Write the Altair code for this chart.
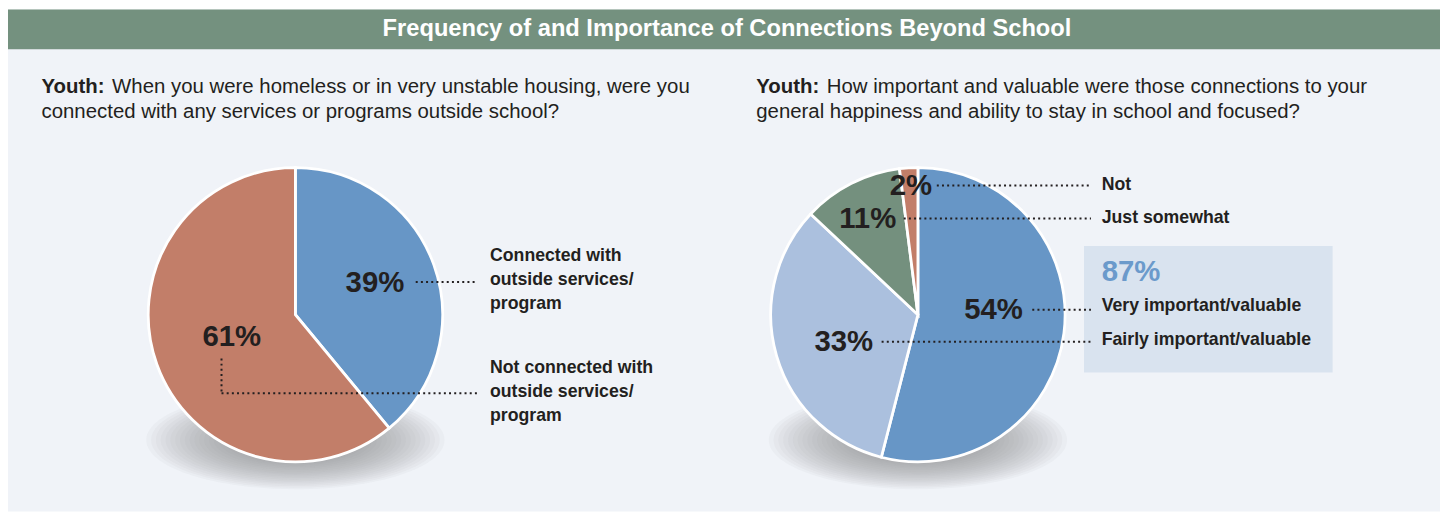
import altair as alt
import pandas as pd
import numpy as np

# ---------------- data ----------------
left_categories = ["Connected with outside services/program",
                   "Not connected with outside services/program"]
left_values = [39, 61]
right_categories = ["Very important/valuable", "Fairly important/valuable",
                    "Just somewhat", "Not"]
right_values = [54, 33, 11, 2]
highlight_value = 87  # very + fairly important

# ---------------- text ----------------
header_text = "Frequency of and Importance of Connections Beyond School"
lead_word = "Youth:"
left_question = ["When you were homeless or in very unstable housing, were you",
                 "connected with any services or programs outside school?"]
right_question = ["How important and valuable were those connections to your",
                  "general happiness and ability to stay in school and focused?"]
left_label_lines = [["Connected with", "outside services/", "program"],
                    ["Not connected with", "outside services/", "program"]]
right_label_lines = [["Very important/valuable"], ["Fairly important/valuable"],
                     ["Just somewhat"], ["Not"]]

# ---------------- style / layout ----------------
W, H = 1440, 508
FONT = "Liberation Sans, Arial, sans-serif"
INK = "#231f20"
BG = "#f0f3f8"
HEADER = "#74917f"
BOX = "#d9e3ef"
left_colors = ["#6796c6", "#c27e69"]
right_colors = ["#6796c6", "#abc0de", "#74907e", "#c27e69"]
R = 148
left_center = (289, 307)
right_center = (915, 307)
left_pct_pos = [(369, 275), (225, 329)]
right_pct_pos = [(991, 302), (840.5, 334.5), (864.5, 211), (908, 178)]
left_leaders = [[(410, 274, 472, 274)],
                [(214.7, 351, 214.7, 386), (214.7, 386, 472, 386)]]
right_leaders = [[(1030, 302, 1089, 302)], [(878.5, 334.3, 1089, 334.3)],
                 [(900.7, 210.3, 1089, 210.3)], [(934, 177, 1089, 177)]]
left_label_pos = [(484.7, 248), (484.7, 361)]
right_label_pos = [(1099.8, 298.7), (1099.8, 332), (1099.8, 210), (1099.8, 177)]
LINE_H = 24

# ---------------- tables ----------------
left_df = pd.DataFrame({"category": left_categories, "value": left_values,
                        "idx": range(len(left_values))})
right_df = pd.DataFrame({"category": right_categories, "value": right_values,
                         "idx": range(len(right_values))})

pct_rows = []
for v, (x, y) in zip(left_values, left_pct_pos):
    pct_rows.append({"t": f"{v}%", "x": x, "y": y})
for v, (x, y) in zip(right_values, right_pct_pos):
    pct_rows.append({"t": f"{v}%", "x": x, "y": y})
pct_df = pd.DataFrame(pct_rows)

seg_rows = []
for segs in left_leaders + right_leaders:
    for (x1, y1, x2, y2) in segs:
        seg_rows.append({"x": x1, "y": y1, "x2": x2, "y2": y2})
seg_df = pd.DataFrame(seg_rows)

lab_rows = []
for lines, (x, y) in zip(left_label_lines + right_label_lines,
                         left_label_pos + right_label_pos):
    for i, ln in enumerate(lines):
        lab_rows.append({"t": ln, "x": x, "y": y + i * LINE_H})
lab_df = pd.DataFrame(lab_rows)

# soft drop shadow: a stack of faint concentric ellipses (decoration only)
shadow_rows = []
for cx, cy in (left_center, right_center):
    for f in np.linspace(1.0, 0.45, 18):
        shadow_rows.append({"x": cx, "y": cy + 126, "s": (2 * 150 * f) ** 2})
shadow_df = pd.DataFrame(shadow_rows)

q_rows = []
for x0, q in ((33.7, left_question), (752.4, right_question)):
    q_rows.append({"t": q[0], "x": x0 + 71, "y": 78})
    q_rows.append({"t": q[1], "x": x0, "y": 103})
q_df = pd.DataFrame(q_rows)
lead_df = pd.DataFrame({"t": [lead_word, lead_word], "x": [33.7, 752.4], "y": [78, 78]})

def px(field):
    return alt.X(f"{field}:Q", scale=None, axis=None)

def py(field):
    return alt.Y(f"{field}:Q", scale=None, axis=None)

base = alt.Chart(pd.DataFrame({"d": [0]}))

panel = base.mark_rect(color=BG).encode(
    x=alt.value(0), x2=alt.value(W), y=alt.value(0), y2=alt.value(505))
header = base.mark_rect(color=HEADER).encode(
    x=alt.value(0), x2=alt.value(W), y=alt.value(0), y2=alt.value(40))
header_title = base.mark_text(text=header_text, font=FONT, fontSize=23.8,
                              fontWeight="bold", color="white",
                              align="center", baseline="middle").encode(
    x=alt.value(723), y=alt.value(20))
box = base.mark_rect(color=BOX).encode(
    x=alt.value(1082), x2=alt.value(1332), y=alt.value(238), y2=alt.value(365))

shadow = alt.Chart(shadow_df).mark_point(
    shape="M-1,0A1,0.33,0,1,0,1,0A1,0.33,0,1,0,-1,0Z",
    filled=True, fill="#80868e", fillOpacity=0.05, opacity=1,
    strokeOpacity=0, strokeWidth=0).encode(
    x=px("x"), y=py("y"), size=alt.Size("s:Q", scale=None, legend=None))

left_pie = alt.Chart(left_df).mark_arc(outerRadius=R, stroke="white", strokeWidth=2.8).encode(
    theta=alt.Theta("value:Q", stack=True),
    color=alt.Color("category:N", scale=alt.Scale(domain=left_categories, range=left_colors), legend=None),
    order=alt.Order("idx:Q"),
    x=alt.value(left_center[0]), y=alt.value(left_center[1]))
right_pie = alt.Chart(right_df).mark_arc(outerRadius=R, stroke="white", strokeWidth=2.8).encode(
    theta=alt.Theta("value:Q", stack=True),
    color=alt.Color("category:N", scale=alt.Scale(domain=right_categories, range=right_colors), legend=None),
    order=alt.Order("idx:Q"),
    x=alt.value(right_center[0]), y=alt.value(right_center[1]))

leaders = alt.Chart(seg_df).mark_rule(color=INK, strokeWidth=2, strokeDash=[2, 3.2]).encode(
    x=px("x"), y=py("y"), x2="x2:Q", y2="y2:Q")

pcts = alt.Chart(pct_df).mark_text(font=FONT, fontSize=29.5, fontWeight="bold", color=INK,
                                   align="center", baseline="middle").encode(
    x=px("x"), y=py("y"), text="t:N")

big = base.mark_text(text=f"{highlight_value}%", font=FONT, fontSize=29.5, fontWeight="bold",
                     color="#6b9acb", align="left", baseline="middle").encode(
    x=alt.value(1099.8), y=alt.value(264))

labels = alt.Chart(lab_df).mark_text(font=FONT, fontSize=17.8, fontWeight="bold", color=INK,
                                     align="left", baseline="middle").encode(
    x=px("x"), y=py("y"), text="t:N")

lead = alt.Chart(lead_df).mark_text(font=FONT, fontSize=20.5, fontWeight="bold", color=INK,
                                    align="left", baseline="middle").encode(
    x=px("x"), y=py("y"), text="t:N")
questions = alt.Chart(q_df).mark_text(font=FONT, fontSize=20.5, color=INK,
                                      align="left", baseline="middle").encode(
    x=px("x"), y=py("y"), text="t:N")

chart = alt.layer(
    panel, header, header_title, box, shadow, left_pie, right_pie,
    leaders, pcts, big, labels, lead, questions
).resolve_scale(
    theta="independent", color="independent"
).properties(
    width=W, height=H, padding=0,
    autosize=alt.AutoSizeParams(type="none"),
    background="white"
).configure_view(stroke=None)

chart.save("out.html", embed_options={"renderer": "svg", "actions": False})
